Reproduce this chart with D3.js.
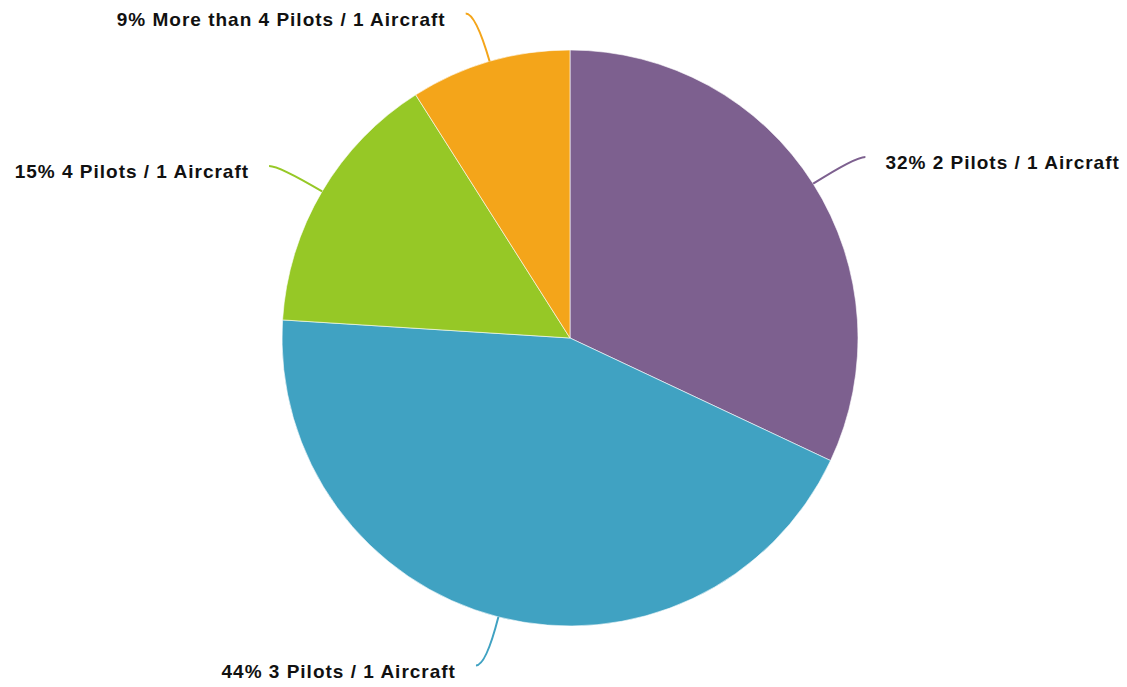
<!DOCTYPE html>
<html>
<head>
<meta charset="utf-8">
<script src="https://cdn.jsdelivr.net/npm/d3@7"></script>
<style>
  html, body { margin: 0; padding: 0; background: #ffffff; }
  svg { display: block; }
  .slice-label {
    font-family: "Liberation Sans", Arial, Helvetica, sans-serif;
    font-weight: bold;
    font-size: 19px;
    letter-spacing: 1px;
    fill: #111111;
  }
</style>
</head>
<body>
<svg id="chart" width="1127" height="687"></svg>
<script>
// Crew ratio shares, clockwise from 12 o'clock
const categories = [
  "2 Pilots / 1 Aircraft",
  "3 Pilots / 1 Aircraft",
  "4 Pilots / 1 Aircraft",
  "More than 4 Pilots / 1 Aircraft"
];
const shares = [32, 44, 15, 9];
const colors = ["#7d608f", "#40a2c2", "#96c826", "#f4a51a"];

const width = 1127, height = 687;
const cx = 570, cy = 338, radius = 288;

const rows = categories.map((name, i) => ({ name, value: shares[i], color: colors[i] }));
const total = d3.sum(shares);

const svg = d3.select("#chart");
const g = svg.append("g").attr("transform", `translate(${cx},${cy})`);

const pie = d3.pie().value(d => d.value).sort(null);
const arc = d3.arc().innerRadius(0).outerRadius(radius);
const arcs = pie(rows);

g.selectAll("path.slice")
  .data(arcs)
  .join("path")
  .attr("class", "slice")
  .attr("d", arc)
  .attr("fill", d => d.data.color)
  .attr("stroke", "#ffffff")
  .attr("stroke-width", 0.6);

// polar helper: angle measured clockwise from 12 o'clock
const polar = (a, r) => [Math.sin(a) * r, -Math.cos(a) * r];

const leaderLen = 50, tail = 10, textGap = 20;

arcs.forEach(d => {
  const mid = (d.startAngle + d.endAngle) / 2;
  const right = Math.sin(mid) >= 0;
  const p0 = polar(mid, radius);
  const p1 = polar(mid, radius + leaderLen);
  const p2 = [p1[0] + (right ? tail : -tail), p1[1]];

  g.append("path")
    .attr("d", `M${p0[0]},${p0[1]} Q${p1[0]},${p1[1]} ${p2[0]},${p2[1]}`)
    .attr("fill", "none")
    .attr("stroke", d.data.color)
    .attr("stroke-width", 2);

  g.append("text")
    .attr("class", "slice-label")
    .attr("x", p2[0] + (right ? textGap : -textGap))
    .attr("y", p2[1] + 12.5)
    .attr("text-anchor", right ? "start" : "end")
    .text(`${Math.round(d.data.value / total * 100)}% ${d.data.name}`);
});
</script>
</body>
</html>
